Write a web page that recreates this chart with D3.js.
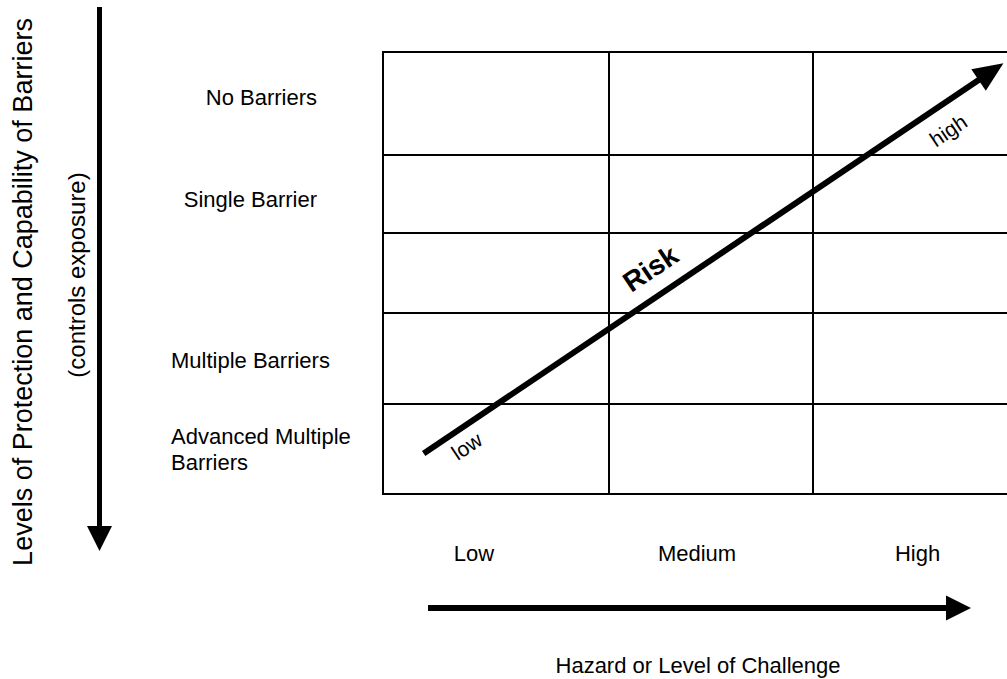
<!DOCTYPE html>
<html>
<head>
<meta charset="utf-8">
<script src="https://cdn.jsdelivr.net/npm/d3@7"></script>
<style>
    body { margin: 0; background: #fff; }
    svg { display: block; }
    text { font-family: "Liberation Sans", Arial, sans-serif; fill: #000; }
</style>
</head>
<body>
<div id="chart"></div>
<script>
// categories
var hazardLevels = ['Low', 'Medium', 'High'];
var barrierLevels = ['No Barriers', 'Single Barrier', '', 'Multiple Barriers', 'Advanced Multiple\nBarriers'];
var riskLabels = ['low', 'Risk', 'high'];
// risk arrow runs through the grid, in (column, row) units
var riskStart = [0.18, 4.55];
var riskEnd = [2.92, 0.11];
var yTitle = ['Levels of Protection and Capability of Barriers', '(controls exposure)'];
var xTitle = 'Hazard or Level of Challenge';

const width = 1007;
const height = 679;

// grid cells are not all the same size
const xScale = d3.scaleLinear()
    .domain([0, 1, 2, 3])
    .range([383, 609, 813, 1020]);

const yScale = d3.scaleLinear()
    .domain([0, 1, 2, 3, 4, 5])
    .range([52, 155, 233, 313, 404, 494]);

let svg = d3.select('#chart')
    .append('svg')
    .attr('width', width)
    .attr('height', height);

function arrow(g, x1, y1, x2, y2, lw, headLen, headW) {
    var dx = x2 - x1, dy = y2 - y1;
    var len = Math.sqrt(dx * dx + dy * dy);
    var ux = dx / len, uy = dy / len;
    var bx = x2 - ux * headLen, by = y2 - uy * headLen;
    g.append('line')
        .attr('x1', x1).attr('y1', y1)
        .attr('x2', bx + ux).attr('y2', by + uy)
        .attr('stroke', '#000')
        .attr('stroke-width', lw);
    var pts = [
        [x2, y2],
        [bx - uy * headW / 2, by + ux * headW / 2],
        [bx + uy * headW / 2, by - ux * headW / 2]
    ];
    g.append('polygon')
        .attr('points', pts.map((p) => p.join(',')).join(' '))
        .attr('fill', '#000');
}

// grid
let grid = svg.append('g');
grid.selectAll('line.v')
    .data(d3.range(hazardLevels.length + 1))
    .enter()
    .append('line')
    .attr('x1', (d) => xScale(d)).attr('x2', (d) => xScale(d))
    .attr('y1', yScale(0) - 1).attr('y2', yScale(barrierLevels.length) + 1)
    .attr('stroke', '#000')
    .attr('stroke-width', 2);

grid.selectAll('line.h')
    .data(d3.range(barrierLevels.length + 1))
    .enter()
    .append('line')
    .attr('x1', xScale(0) - 1).attr('x2', xScale(hazardLevels.length))
    .attr('y1', (d) => yScale(d)).attr('y2', (d) => yScale(d))
    .attr('stroke', '#000')
    .attr('stroke-width', 2);

// row labels
const rowLabelX = [317, 317, 0, 171, 171];
const rowLabelAnchor = ['end', 'end', 'start', 'start', 'start'];
const rowLabelDy = [1, 13, 0, 9, 8];
barrierLevels.forEach(function(label, i){
    if (!label) return;
    var lines = label.split('\n');
    var t = svg.append('text')
        .attr('x', rowLabelX[i])
        .attr('y', yScale(i + 0.5) + rowLabelDy[i] - (lines.length - 1) * 13)
        .attr('text-anchor', rowLabelAnchor[i])
        .style('font-size', '22px');
    lines.forEach(function(line, j){
        t.append('tspan')
            .attr('x', rowLabelX[i])
            .attr('dy', j == 0 ? '0' : '26')
            .text(line);
    });
});

// column labels
const colLabelShift = [-22, -14, 1];
svg.selectAll('text.col')
    .data(hazardLevels)
    .enter()
    .append('text')
    .attr('x', (d, i) => xScale(i + 0.5) + colLabelShift[i])
    .attr('y', 561)
    .attr('text-anchor', 'middle')
    .style('font-size', '22px')
    .text((d) => d);

// risk arrow
let risk = svg.append('g');
var rx1 = xScale(riskStart[0]), ry1 = yScale(riskStart[1]);
var rx2 = xScale(riskEnd[0]), ry2 = yScale(riskEnd[1]);
arrow(risk, rx1, ry1, rx2, ry2, 6, 30, 26);

var angle = Math.atan2(ry2 - ry1, rx2 - rx1) * 180 / Math.PI;
var rlen = Math.sqrt((rx2 - rx1) * (rx2 - rx1) + (ry2 - ry1) * (ry2 - ry1));
// where each label sits along the arrow and how far off it
const riskLabelT = [0.057, 0.417, 0.881];
const riskLabelOff = [18, -27, 25];
const riskLabelSize = [21, 28, 21];
riskLabels.forEach(function(label, i){
    var cx = rx1 + (rx2 - rx1) * riskLabelT[i];
    var cy = ry1 + (ry2 - ry1) * riskLabelT[i];
    var nx = -(ry2 - ry1) / rlen, ny = (rx2 - rx1) / rlen;
    cx += nx * riskLabelOff[i];
    cy += ny * riskLabelOff[i];
    risk.append('text')
        .attr('transform', `translate(${cx},${cy}) rotate(${angle})`)
        .attr('text-anchor', 'middle')
        .attr('dy', '0.35em')
        .style('font-size', riskLabelSize[i] + 'px')
        .style('font-weight', i == 1 ? 'bold' : 'normal')
        .text(label);
});

// axis arrows
arrow(svg.append('g'), 99.5, 7, 99.5, 551, 5, 25, 25);
arrow(svg.append('g'), 428, 608, 971, 608, 6, 25, 25);

// axis titles
svg.append('text')
    .attr('transform', 'translate(32,292) rotate(-90)')
    .attr('text-anchor', 'middle')
    .style('font-size', '27px')
    .text(yTitle[0]);

svg.append('text')
    .attr('transform', 'translate(85,275) rotate(-90)')
    .attr('text-anchor', 'middle')
    .style('font-size', '24px')
    .text(yTitle[1]);

svg.append('text')
    .attr('x', 698)
    .attr('y', 673)
    .attr('text-anchor', 'middle')
    .style('font-size', '22px')
    .text(xTitle);
</script>
</body>
</html>
